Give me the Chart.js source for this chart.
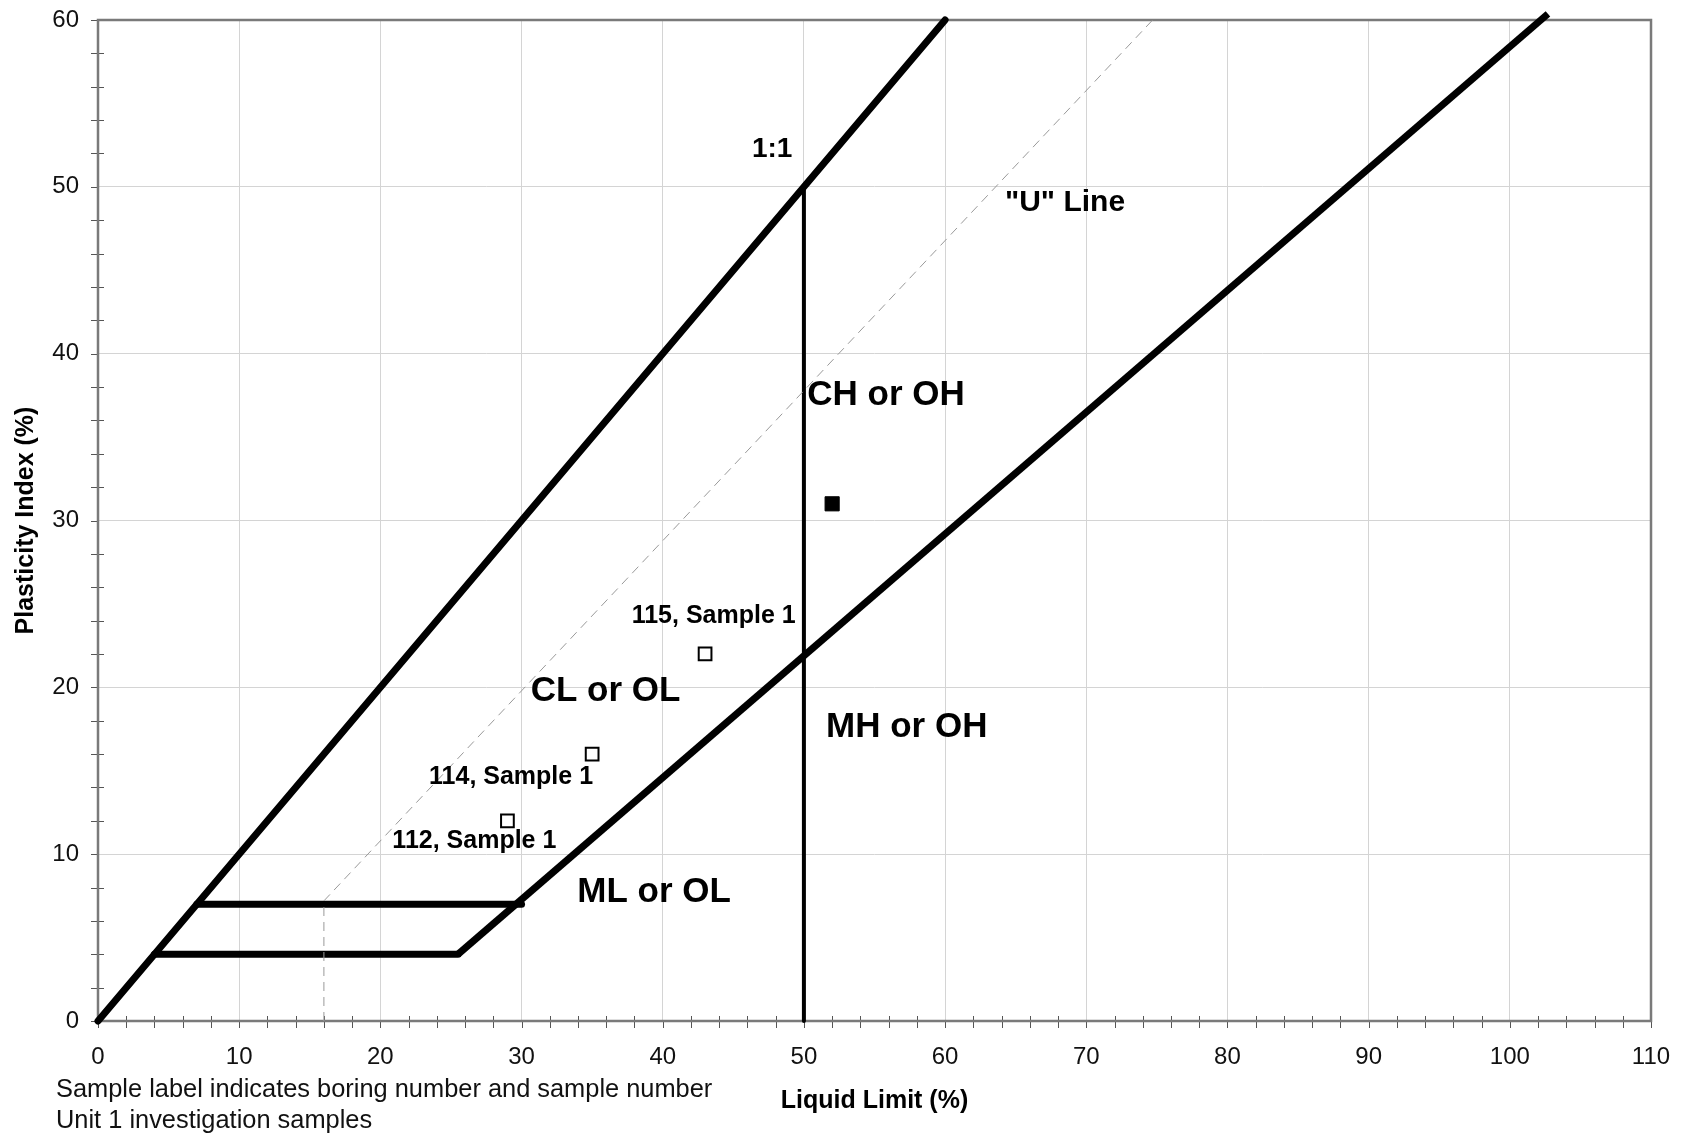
<!DOCTYPE html>
<html>
<head>
<meta charset="utf-8">
<script src="https://cdn.jsdelivr.net/npm/chart.js@4.4.1/dist/chart.umd.min.js"></script>
<style>
  html, body { margin: 0; padding: 0; background: #fff; }
  canvas { display: block; }
</style>
</head>
<body>
<canvas id="plasticity" width="1686" height="1137"></canvas>
<script>
// ---- Plasticity chart data (Liquid Limit %, Plasticity Index %) ----
const oneToOneLL = [0, 60];
const oneToOnePI = [0, 60];
const aLineLL = [25.5, 102.7];
const aLinePI = [4, 60.37];
const uLineLL = [16, 16, 74.7];
const uLinePI = [0, 7.2, 60];
const upperBandLL = [7, 30];
const upperBandPI = [7, 7];
const lowerBandLL = [4, 25.5];
const lowerBandPI = [4, 4];
const dividerLL = [50, 50];
const dividerPI = [0, 50];

// Unit 1 investigation samples
const sampleLL = [29, 35, 43];
const samplePI = [12, 16, 22];
const sampleNames = ['112, Sample 1', '114, Sample 1', '115, Sample 1'];
const sampleLabelLL = [20.85, 23.45, 37.8];
const sampleLabelPI = [10.39, 14.21, 23.87];

// Additional (unlabelled) result
const otherLL = [52];
const otherPI = [31];

// Zone names and where their text starts
const zoneNames = ['CH or OH', 'CL or OL', 'MH or OH', 'ML or OL'];
const zoneLabelLL = [50.24, 30.65, 51.57, 33.95];
const zoneLabelPI = [36.92, 19.2, 17.04, 7.11];

// Line captions
const lineCaptions = ['1:1', '"U" Line'];
const lineCaptionLL = [46.32, 64.24];
const lineCaptionPI = [51.79, 48.57];
const lineCaptionSize = [28, 30];

// Axis ranges and ticks
const xMin = 0, xMax = 110;
const yMin = 0, yMax = 60;
const majorStep = 10;
const minorStep = 2;

const notes = [
  'Sample label indicates boring number and sample number',
  'Unit 1 investigation samples'
];

const FONT = "'Liberation Sans', Arial, Helvetica, sans-serif";

const pts = (xs, ys) => xs.map((x, i) => ({ x: x, y: ys[i] }));

function lineSet(xs, ys, width, extra) {
  return Object.assign({
    type: 'line',
    data: pts(xs, ys),
    showLine: true,
    borderColor: '#000',
    borderWidth: width,
    pointRadius: 0,
    pointHoverRadius: 0,
    borderCapStyle: 'round',
    borderJoinStyle: 'round',
    tension: 0,
    fill: false,
    clip: false
  }, extra || {});
}

// Frame around the plotting area and tick marks crossing the axes
const framePlugin = {
  id: 'frame',
  beforeDatasetsDraw(chart) {
    const { ctx, chartArea: a, scales } = chart;
    ctx.save();
    ctx.strokeStyle = '#555';
    ctx.lineWidth = 1;
    ctx.beginPath();
    scales.x.ticks.forEach(t => {
      const px = Math.round(scales.x.getPixelForValue(t.value)) + 0.5;
      const major = t.value % majorStep === 0;
      ctx.moveTo(px, a.bottom - (major ? 0 : 5));
      ctx.lineTo(px, a.bottom + 7);
    });
    scales.y.ticks.forEach(t => {
      const py = Math.round(scales.y.getPixelForValue(t.value)) + 0.5;
      const major = t.value % majorStep === 0;
      ctx.moveTo(a.left - 7, py);
      ctx.lineTo(a.left + (major ? 0 : 6), py);
    });
    ctx.stroke();
    ctx.strokeStyle = '#7a7a7a';
    ctx.lineWidth = 2.5;
    ctx.strokeRect(a.left, a.top, a.right - a.left, a.bottom - a.top);
    ctx.restore();
  },
  afterDatasetsDraw(chart) {
    const { ctx, scales } = chart;
    const X = v => scales.x.getPixelForValue(v);
    const Y = v => scales.y.getPixelForValue(v);
    ctx.save();
    ctx.fillStyle = '#000';
    ctx.textAlign = 'left';
    ctx.textBaseline = 'alphabetic';
    ctx.font = 'bold 35px ' + FONT;
    zoneNames.forEach((n, i) => ctx.fillText(n, X(zoneLabelLL[i]), Y(zoneLabelPI[i])));
    lineCaptions.forEach((n, i) => {
      ctx.font = 'bold ' + lineCaptionSize[i] + 'px ' + FONT;
      ctx.fillText(n, X(lineCaptionLL[i]), Y(lineCaptionPI[i]));
    });
    ctx.font = 'bold 25px ' + FONT;
    sampleNames.forEach((n, i) => ctx.fillText(n, X(sampleLabelLL[i]), Y(sampleLabelPI[i])));
    ctx.restore();
  },
  afterDraw(chart) {
    const { ctx } = chart;
    ctx.save();
    ctx.fillStyle = '#111';
    ctx.textAlign = 'left';
    ctx.textBaseline = 'alphabetic';
    ctx.font = '25.4px ' + FONT;
    notes.forEach((n, i) => ctx.fillText(n, 56, 1097 + i * 31));
    ctx.restore();
  }
};

const whiteBg = {
  id: 'whiteBg',
  beforeDraw(chart) {
    const { ctx, width, height } = chart;
    ctx.save();
    ctx.fillStyle = '#fff';
    ctx.fillRect(0, 0, width, height);
    ctx.restore();
  }
};

const gridColor = ctx => (ctx.tick && ctx.tick.value % majorStep === 0) ? '#d4d4d4' : 'rgba(0,0,0,0)';
const tickText = v => (v % majorStep === 0 ? String(v) : '');

new Chart(document.getElementById('plasticity'), {
  type: 'scatter',
  data: {
    datasets: [
      lineSet(uLineLL, uLinePI, 1, { borderColor: '#9a9a9a', borderDash: [9, 6], borderCapStyle: 'butt' }),
      lineSet(dividerLL, dividerPI, 4),
      lineSet(oneToOneLL, oneToOnePI, 7),
      lineSet(aLineLL, aLinePI, 7, { borderCapStyle: 'butt' }),
      lineSet(upperBandLL, upperBandPI, 7),
      lineSet(lowerBandLL, lowerBandPI, 7),
      {
        type: 'scatter',
        data: pts(sampleLL, samplePI),
        pointStyle: 'rect',
        pointRadius: 9,
        pointHoverRadius: 9,
        backgroundColor: '#fff',
        borderColor: '#000',
        borderWidth: 2
      },
      {
        type: 'scatter',
        data: pts(otherLL, otherPI),
        pointStyle: 'rect',
        pointRadius: 10,
        pointHoverRadius: 10,
        backgroundColor: '#000',
        borderColor: '#000',
        borderWidth: 1
      }
    ]
  },
  options: {
    responsive: false,
    animation: false,
    devicePixelRatio: 1,
    events: [],
    layout: { padding: { left: 0, top: 20, right: 35, bottom: 0 } },
    plugins: { legend: { display: false }, tooltip: { enabled: false } },
    scales: {
      x: {
        type: 'linear',
        position: 'bottom',
        min: xMin,
        max: xMax,
        afterFit: s => { s.height = 116; s.paddingLeft = 0; s.paddingRight = 0; },
        ticks: {
          stepSize: minorStep,
          autoSkip: false,
          maxRotation: 0,
          minRotation: 0,
          padding: 22,
          color: '#111',
          font: { family: FONT, size: 24 },
          callback: tickText
        },
        grid: { drawTicks: false, color: gridColor, lineWidth: 1 },
        border: { display: false },
        title: {
          display: true,
          text: 'Liquid Limit (%)',
          color: '#000',
          font: { family: FONT, size: 25, weight: 'bold' },
          padding: { top: 0, bottom: 21 }
        }
      },
      y: {
        type: 'linear',
        position: 'left',
        min: yMin,
        max: yMax,
        afterFit: s => { s.width = 98; s.paddingTop = 0; s.paddingBottom = 0; },
        ticks: {
          stepSize: minorStep,
          autoSkip: false,
          padding: 19,
          color: '#111',
          font: { family: FONT, size: 24 },
          callback: tickText
        },
        grid: { drawTicks: false, color: gridColor, lineWidth: 1 },
        border: { display: false },
        title: {
          display: true,
          text: 'Plasticity Index (%)',
          color: '#000',
          font: { family: FONT, size: 25, weight: 'bold' },
          padding: { top: 11, bottom: 0 }
        }
      }
    }
  },
  plugins: [whiteBg, framePlugin]
});
</script>
</body>
</html>
